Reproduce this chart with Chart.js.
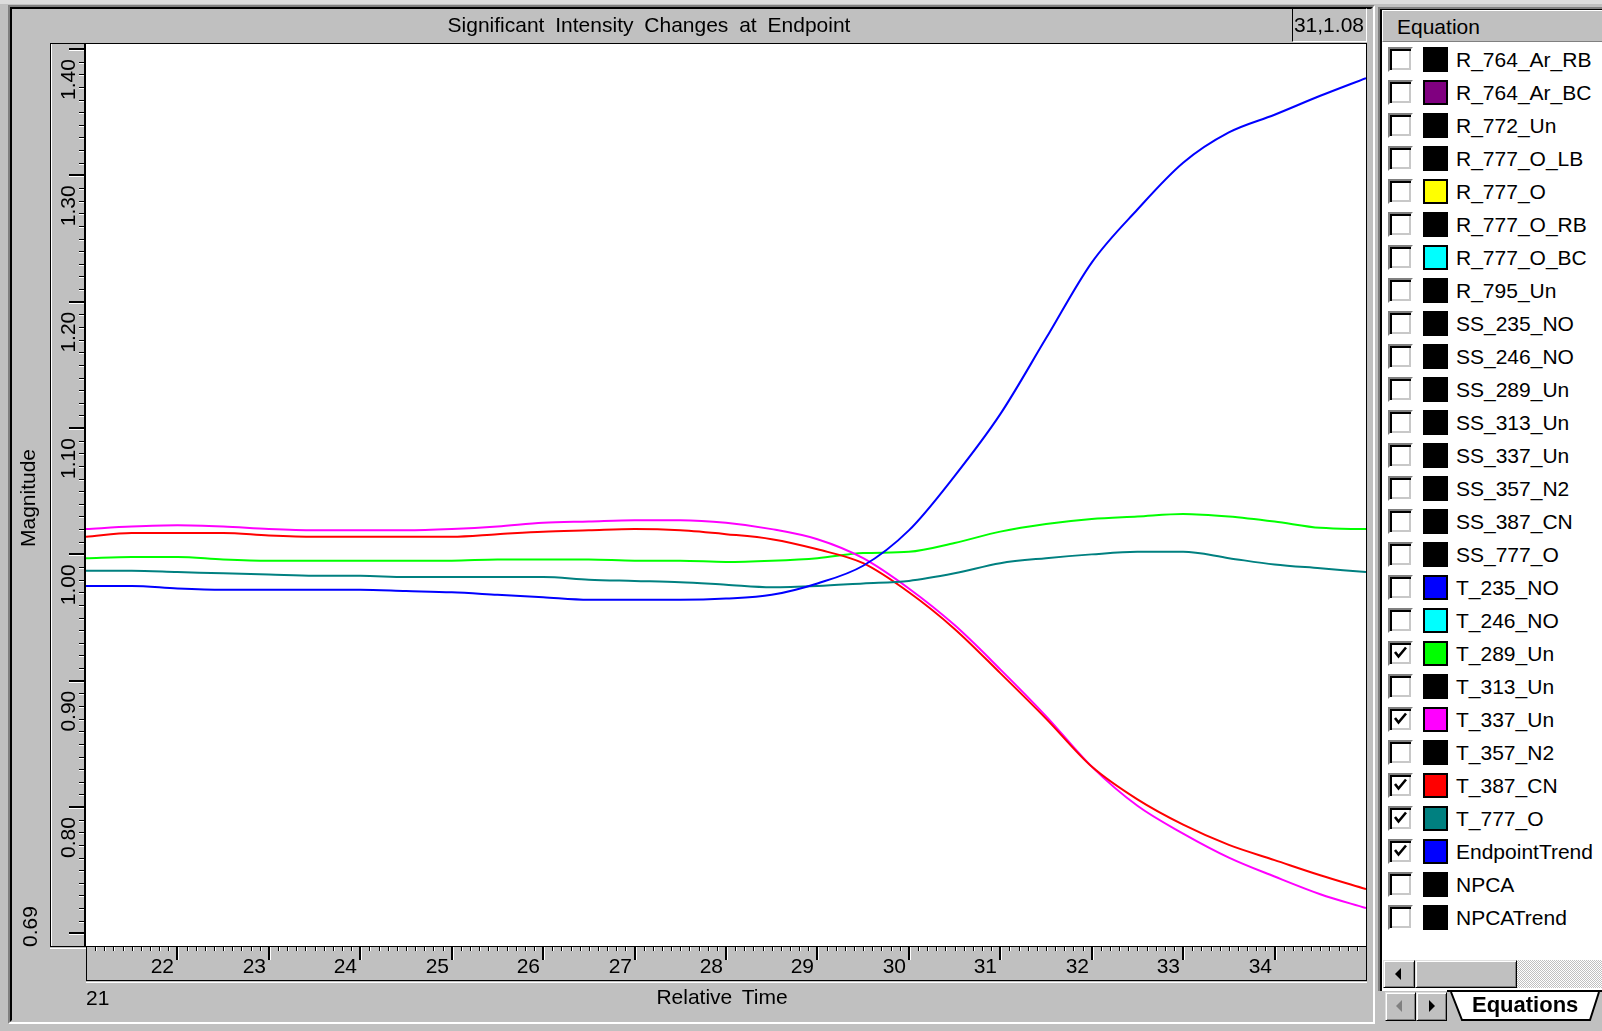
<!DOCTYPE html>
<html lang="en">
<head>
<meta charset="utf-8">
<title>Significant Intensity Changes at Endpoint</title>
<script src="https://cdn.jsdelivr.net/npm/chart.js@4.4.1/dist/chart.umd.min.js"></script>
<style>
  html, body { margin: 0; padding: 0; }
  body {
    width: 1602px; height: 1031px; overflow: hidden; position: relative;
    background: #c0c0c0; color: #000;
    font-family: "Liberation Sans", Arial, sans-serif; font-size: 21px;
  }
  .abs { position: absolute; box-sizing: border-box; }
  #topband { left: 0; top: 0; width: 1602px; height: 4px; background: #dcdcdc; }
  #frame { left: 8px; top: 5px; width: 1367px; height: 1019px; border-style: solid; border-width: 2px;
           border-color: #808080 #ffffff #ffffff #808080; }
  #frameIn { left: 0; top: 0; width: 100%; height: 100%; border-style: solid; border-width: 2px;
             border-color: #000 #c0c0c0 #c0c0c0 #000; }
  #chartCanvas { position: absolute; left: 0; top: 0; }
  .txt { position: absolute; white-space: pre; line-height: 24px; height: 24px; }
  #title { left: 0; width: 1298px; top: 12.7px; text-align: center; word-spacing: 5px; }
  #readoutBox { left: 1292px; top: 8px; width: 75px; height: 34px; border-style: solid; border-width: 1px;
                border-color: #000 #fff #fff #000; }
  #readout { left: 1292px; width: 72px; top: 12.7px; text-align: right; }
  #xTitle { left: 522px; width: 400px; top: 984.7px; text-align: center; word-spacing: 4px; }
  #yTitle { left: -72px; width: 200px; top: 486px; text-align: center; transform: rotate(-90deg); }
  #listBox { left: 1378px; top: 7px; width: 226px; height: 984px; background: #fff; border-style: solid;
             border-width: 2px 0 0 2px; border-color: #808080; box-shadow: inset 2px 2px 0 #000; }
  #listHead { left: 1382px; top: 10px; width: 222px; height: 32px; background: #c0c0c0; border-style: solid;
              border-width: 1px; border-color: #fff #808080 #808080 #fff; }
  #listHeadText { left: 1397px; top: 14.7px; }
  .cb { position: absolute; left: 1388px; width: 25px; height: 25px; box-sizing: border-box; background: #fff;
        border-style: solid; border-width: 2px; border-color: #808080 #fff #fff #808080;
        box-shadow: inset 2px 2px 0 #000, inset -2px -2px 0 #c8c8c8; }
  .cb svg { position: absolute; left: -2px; top: -2px; }
  .sw { position: absolute; left: 1423px; width: 25px; height: 25px; box-sizing: border-box; border: 2px solid #000; }
  .lbl { position: absolute; left: 1456px; line-height: 25px; height: 25px; white-space: pre; }
  .btn { position: absolute; box-sizing: border-box; background: #c0c0c0; border-style: solid; border-width: 1px;
         border-color: #dfdfdf #000 #000 #dfdfdf; box-shadow: inset 1px 1px 0 #fff, inset -1px -1px 0 #808080; }
  .tri { position: absolute; width: 0; height: 0; border-top: 6px solid transparent; border-bottom: 6px solid transparent; }
  #sbTrack { left: 1517px; top: 960px; width: 85px; height: 28px;
             background: repeating-conic-gradient(#c0c0c0 0 25%, #ffffff 0 50%) 0 0 / 2px 2px; }
  #tabRowLine { left: 1447px; top: 990px; width: 155px; height: 2px; background: #000; }
  #tabShape { position: absolute; left: 1447px; top: 990px; }
  #tabText { left: 1472px; top: 992.4px; font-weight: bold; font-size: 22px; line-height: 26px; }
</style>
</head>
<body>
<div id="topband" class="abs"></div>
<div id="frame" class="abs"><div id="frameIn" class="abs"></div></div>
<canvas id="chartCanvas" width="1602" height="1031"></canvas>

<div id="title" class="txt">Significant Intensity Changes at Endpoint</div>
<div id="readoutBox" class="abs"></div>
<div id="readout" class="txt">31,1.08</div>
<div id="xTitle" class="txt">Relative Time</div>
<div id="yTitle" class="txt">Magnitude</div>

<div id="listBox" class="abs"></div>
<div id="listHead" class="abs"></div>
<div id="listHeadText" class="txt">Equation</div>
<div id="rows"></div>

<div class="btn" style="left:1383px;top:960px;width:32px;height:28px;">
  <div class="tri" style="left:11px;top:7px;border-right:6px solid #000;"></div>
</div>
<div class="btn" style="left:1415px;top:960px;width:102px;height:28px;"></div>
<div id="sbTrack" class="abs"></div>

<div class="btn" style="left:1385px;top:992px;width:31px;height:29px;">
  <div class="tri" style="left:10px;top:7px;border-right:6px solid #808080;"></div>
</div>
<div class="btn" style="left:1416px;top:992px;width:31px;height:29px;">
  <div class="tri" style="left:12px;top:7px;border-left:6px solid #000;"></div>
</div>
<div id="tabRowLine" class="abs"></div>
<svg id="tabShape" width="155" height="33" viewBox="0 0 155 33">
  <polygon points="4,2 15,30 143,30 152,2" fill="#ffffff"/>
  <polyline points="4,2 15,30 143,30 152,2" fill="none" stroke="#000" stroke-width="2"/>
</svg>
<div id="tabText" class="txt">Equations</div>

<script>
// Sample times (relative time units)
const times = [21, 21.5, 22, 22.5, 23, 23.5, 24, 24.5, 25, 25.5, 26, 26.5, 27, 27.5,
               28, 28.5, 29, 29.5, 30, 30.5, 31, 31.5, 32, 32.5, 33, 33.5, 34, 34.5, 35];

// Magnitude of each plotted equation at those times
const t289Un = [0.997, 0.998, 0.998, 0.996, 0.995, 0.995, 0.995, 0.995, 0.995, 0.996, 0.996, 0.996, 0.995, 0.995,
                0.994, 0.995, 0.997, 1.001, 1.002, 1.009, 1.018, 1.024, 1.028, 1.030, 1.032, 1.030, 1.026, 1.021, 1.020];
const t337Un = [1.020, 1.022, 1.023, 1.022, 1.020, 1.019, 1.019, 1.019, 1.020, 1.022, 1.025, 1.026, 1.027, 1.027,
                1.025, 1.020, 1.012, 0.997, 0.973, 0.944, 0.909, 0.872, 0.832, 0.801, 0.779, 0.760, 0.745, 0.731, 0.720];
const t387CN = [1.014, 1.017, 1.017, 1.017, 1.015, 1.014, 1.014, 1.014, 1.014, 1.016, 1.018, 1.019, 1.020, 1.019,
                1.016, 1.012, 1.004, 0.993, 0.970, 0.941, 0.906, 0.870, 0.832, 0.806, 0.786, 0.770, 0.758, 0.746, 0.735];
const t777O  = [0.987, 0.987, 0.986, 0.985, 0.984, 0.983, 0.983, 0.982, 0.982, 0.982, 0.982, 0.980, 0.979, 0.978,
                0.976, 0.974, 0.975, 0.977, 0.979, 0.985, 0.993, 0.997, 1.000, 1.002, 1.002, 0.997, 0.992, 0.989, 0.986];
const endpointTrend = [0.975, 0.975, 0.973, 0.972, 0.972, 0.972, 0.972, 0.971, 0.970, 0.968, 0.966, 0.964, 0.964, 0.964,
                       0.965, 0.968, 0.977, 0.991, 1.019, 1.062, 1.111, 1.171, 1.231, 1.273, 1.310, 1.334, 1.348, 1.363, 1.377];

// Axis ranges and labelled ticks
const xRange = [21, 35];
const yRange = [0.69, 1.404];
const xTickLabels = ['22', '23', '24', '25', '26', '27', '28', '29', '30', '31', '32', '33', '34'];
const yTickLabels = ['0.80', '0.90', '1.00', '1.10', '1.20', '1.30', '1.40'];

// Equation list: names, display colours and which ones are switched on
const equationNames = ['R_764_Ar_RB', 'R_764_Ar_BC', 'R_772_Un', 'R_777_O_LB', 'R_777_O', 'R_777_O_RB', 'R_777_O_BC',
  'R_795_Un', 'SS_235_NO', 'SS_246_NO', 'SS_289_Un', 'SS_313_Un', 'SS_337_Un', 'SS_357_N2', 'SS_387_CN', 'SS_777_O',
  'T_235_NO', 'T_246_NO', 'T_289_Un', 'T_313_Un', 'T_337_Un', 'T_357_N2', 'T_387_CN', 'T_777_O', 'EndpointTrend',
  'NPCA', 'NPCATrend'];
const equationShown = [false, false, false, false, false, false, false, false, false, false, false, false, false, false,
  false, false, false, false, true, false, true, false, true, true, true, false, false];
const equationColors = ['#000000', '#800080', '#000000', '#000000', '#ffff00', '#000000', '#00ffff', '#000000',
  '#000000', '#000000', '#000000', '#000000', '#000000', '#000000', '#000000', '#000000', '#0000ff', '#00ffff',
  '#00ff00', '#000000', '#ff00ff', '#000000', '#ff0000', '#008080', '#0000ff', '#000000', '#000000'];

const seriesByName = { T_289_Un: t289Un, T_337_Un: t337Un, T_387_CN: t387CN, T_777_O: t777O, EndpointTrend: endpointTrend };

// Build the equation list with check boxes and colour swatches
const rowsEl = document.getElementById('rows');
equationNames.forEach((name, i) => {
  const top = 47 + 33 * i;
  const cb = document.createElement('div');
  cb.className = 'cb';
  cb.style.top = top + 'px';
  if (equationShown[i]) {
    cb.innerHTML = '<svg width="25" height="25" viewBox="0 0 25 25"><path d="M7 11 L10.5 15.5 L18 6.5" ' +
      'fill="none" stroke="#000" stroke-width="2.6"/></svg>';
  }
  const sw = document.createElement('div');
  sw.className = 'sw';
  sw.style.top = top + 'px';
  sw.style.background = equationColors[i];
  const lbl = document.createElement('div');
  lbl.className = 'lbl';
  lbl.style.top = (top - 0.5) + 'px';
  lbl.textContent = name;
  rowsEl.append(cb, sw, lbl);
});

// Line datasets for the switched-on equations (first drawn last, i.e. on top)
const drawOrder = ['EndpointTrend', 'T_777_O', 'T_387_CN', 'T_337_Un', 'T_289_Un'];
const datasets = drawOrder
  .filter(name => equationShown[equationNames.indexOf(name)])
  .map(name => ({
    label: name,
    data: times.map((t, i) => ({ x: t, y: seriesByName[name][i] })),
    borderColor: equationColors[equationNames.indexOf(name)],
    borderWidth: 2,
    pointRadius: 0,
    fill: false,
    cubicInterpolationMode: 'monotone'
  }));

// Ruler-style axes: white plot, engraved ticks and rotated magnitude labels
const rulers = {
  id: 'rulers',
  beforeDatasetsDraw(chart) {
    const { ctx, chartArea: a } = chart;
    ctx.save();
    ctx.fillStyle = '#ffffff';
    ctx.fillRect(a.left, a.top, a.right - a.left, a.bottom - a.top);
    ctx.restore();
  },
  afterDraw(chart) {
    const { ctx, chartArea: a } = chart;
    const xs = chart.scales.x, ys = chart.scales.y;
    const L = a.left, R = a.right, T = a.top, B = a.bottom;
    const band = 34;
    const yBoxL = L - 36;
    ctx.save();

    // outlines
    ctx.fillStyle = '#000';
    ctx.fillRect(yBoxL, T - 1, R - yBoxL + 1, 1);
    ctx.fillRect(L - 2, T - 1, 2, B - T + 1);
    ctx.fillRect(yBoxL, B, R - yBoxL + 1, 1);
    ctx.fillRect(R, T - 1, 1, B - T + band + 2);
    ctx.fillRect(yBoxL, T - 1, 1, B - T + 2);
    ctx.fillRect(L, B, 1, band);
    ctx.fillRect(L, B + band, R - L + 1, 1);
    ctx.fillStyle = '#ffffff';
    ctx.fillRect(yBoxL + 1, T, 1, B - T);
    ctx.fillRect(yBoxL, B + 2, L - yBoxL, 1);
    ctx.fillRect(L, B + band + 2, R - L + 1, 1);

    ctx.font = '21px "Liberation Sans", Arial, sans-serif';
    ctx.textBaseline = 'alphabetic';

    // time ruler: tenths, with long ticks on whole units
    const nx = Math.round((xs.max - xs.min) * 10);
    for (let k = 1; k < nx; k++) {
      const px = Math.round(xs.getPixelForValue(xs.min + k / 10));
      const len = (k % 10 === 0) ? 13 : 4;
      const w = (k % 10 === 0) ? 2 : 1;
      ctx.fillStyle = '#000';
      ctx.fillRect(px - w + 1, B + 1, w, len);
      ctx.fillStyle = '#ffffff';
      ctx.fillRect(px + 1, B + 1, 1, len);
    }
    ctx.fillStyle = '#000';
    ctx.textAlign = 'right';
    xTickLabels.forEach(lbl => {
      const px = Math.round(xs.getPixelForValue(Number(lbl)));
      ctx.fillText(lbl, px - 3, B + 27);
    });

    // magnitude ruler: hundredths, with long ticks on tenths
    const c0 = Math.round(ys.min * 100) + 1, c1 = Math.floor(ys.max * 100 + 1e-6);
    for (let c = c0; c <= c1; c++) {
      const py = Math.round(ys.getPixelForValue(c / 100));
      const major = c % 10 === 0;
      const len = major ? 15 : 5;
      const h = major ? 2 : 1;
      ctx.fillStyle = '#000';
      ctx.fillRect(L - 2 - len, py - h + 1, len, h);
      ctx.fillStyle = '#ffffff';
      ctx.fillRect(L - 2 - len, py + 1, len, 1);
    }
    ctx.fillStyle = '#000';
    yTickLabels.forEach(lbl => {
      const py = ys.getPixelForValue(Number(lbl));
      ctx.save();
      ctx.translate(L - 11, py + 10);
      ctx.rotate(-Math.PI / 2);
      ctx.textAlign = 'right';
      ctx.fillText(lbl, 0, 0);
      ctx.restore();
    });

    // range minimums shown outside the rulers
    ctx.save();
    ctx.translate(yBoxL - 13, B + 1);
    ctx.rotate(-Math.PI / 2);
    ctx.textAlign = 'left';
    ctx.fillText(ys.min.toFixed(2), 0, 0);
    ctx.restore();
    ctx.textAlign = 'left';
    ctx.fillText(String(xs.min), L, B + band + 25);

    ctx.restore();
  }
};

new Chart(document.getElementById('chartCanvas'), {
  type: 'line',
  data: { datasets },
  options: {
    responsive: false,
    animation: false,
    devicePixelRatio: 1,
    events: [],
    layout: { padding: { left: 86, top: 44, right: 236, bottom: 85 } },
    plugins: { legend: { display: false }, title: { display: false }, tooltip: { enabled: false } },
    scales: {
      x: { type: 'linear', min: xRange[0], max: xRange[1], display: false },
      y: { type: 'linear', min: yRange[0], max: yRange[1], display: false }
    }
  },
  plugins: [rulers]
});
</script>
</body>
</html>
